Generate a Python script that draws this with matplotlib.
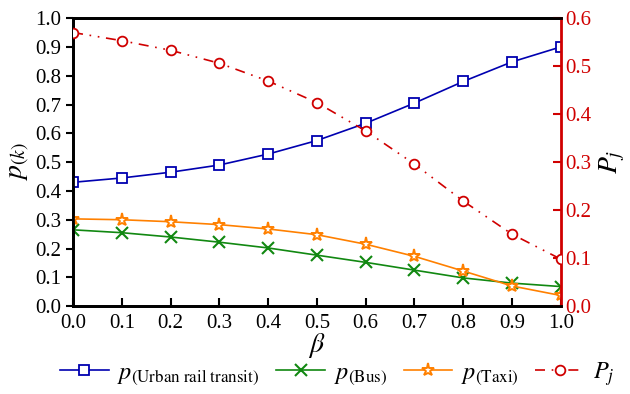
import numpy as np
import matplotlib.pyplot as plt

plt.rcParams['font.family'] = ['Liberation Serif', 'DejaVu Serif']
plt.rcParams['mathtext.fontset'] = 'stix'

# ---- data ----
beta = [0.0, 0.1, 0.2, 0.3, 0.4, 0.5, 0.6, 0.7, 0.8, 0.9, 1.0]
p_rail = [0.430, 0.445, 0.465, 0.490, 0.528, 0.575, 0.635, 0.705, 0.780, 0.848, 0.900]
p_bus = [0.265, 0.255, 0.240, 0.222, 0.202, 0.177, 0.152, 0.125, 0.098, 0.080, 0.068]
p_taxi = [0.303, 0.300, 0.293, 0.283, 0.268, 0.248, 0.215, 0.173, 0.122, 0.070, 0.037]
P_j = [0.570, 0.553, 0.533, 0.506, 0.469, 0.424, 0.365, 0.296, 0.219, 0.150, 0.098]

RED = '#d00000'

fig = plt.figure(figsize=(6.3, 3.94), dpi=100)
ax = fig.add_axes([0.116, 0.223, 0.774, 0.731])
ax2 = ax.twinx()

l1, = ax.plot(beta, p_rail, '-s', color='#0000b0', lw=1.2, ms=6.5,
              mfc='white', mec='#0000b0', mew=1.3,
              label=r'$p_{(\mathrm{Urban\ rail\ transit})}$', zorder=5)
l2, = ax.plot(beta, p_bus, '-x', color='#118811', lw=1.2, ms=9, mew=1.5,
              label=r'$p_{(\mathrm{Bus})}$', zorder=5)
l3, = ax.plot(beta, p_taxi, '-*', color='#ff8000', lw=1.2, ms=9.5,
              mfc='white', mec='#ff8000', mew=1.4,
              label=r'$p_{(\mathrm{Taxi})}$', zorder=5)
l4, = ax2.plot(beta, P_j, color=RED, lw=1.2, marker='o', ms=7,
               mfc='white', mec=RED, mew=1.3,
               dashes=[6, 4, 1, 4, 1, 4], label=r'$P_j$', zorder=5)

ax.set_xlim(0, 1)
ax.set_ylim(0, 1)
ax2.set_ylim(0, 0.6)
ax.set_xticks(np.arange(0, 1.01, 0.1))
ax.set_yticks(np.arange(0, 1.01, 0.1))
ax2.set_yticks(np.arange(0, 0.61, 0.1))
ax.xaxis.set_major_formatter(plt.FormatStrFormatter('%.1f'))
ax.yaxis.set_major_formatter(plt.FormatStrFormatter('%.1f'))
ax2.yaxis.set_major_formatter(plt.FormatStrFormatter('%.1f'))

ax.tick_params(axis='x', direction='in', length=6, width=1.5, labelsize=15, pad=6)
ax.tick_params(axis='y', direction='out', length=5, width=1.5, labelsize=15)
ax2.tick_params(axis='y', direction='in', length=6, width=1.5, labelsize=15,
                colors=RED)

for s in ['left', 'bottom', 'top']:
    ax.spines[s].set_linewidth(2)
    ax2.spines[s].set_linewidth(2)
ax2.spines['right'].set_color(RED)
ax2.spines['right'].set_linewidth(2)
ax.spines['right'].set_visible(False)

ax.set_xlabel(r'$\beta$', fontsize=20, labelpad=-2)
ax.set_ylabel(r'$p_{(k)}$', fontsize=20, labelpad=2)
ax2.set_ylabel(r'$P_j$', fontsize=20, labelpad=4)

fig.legend(handles=[l1, l2, l3, l4], loc='lower center', ncol=4,
           frameon=False, fontsize=17.5, bbox_to_anchor=(0.535, -0.04),
           handlelength=2.0, columnspacing=0.7, handletextpad=0.35)

fig.savefig('out.png', dpi=100)
